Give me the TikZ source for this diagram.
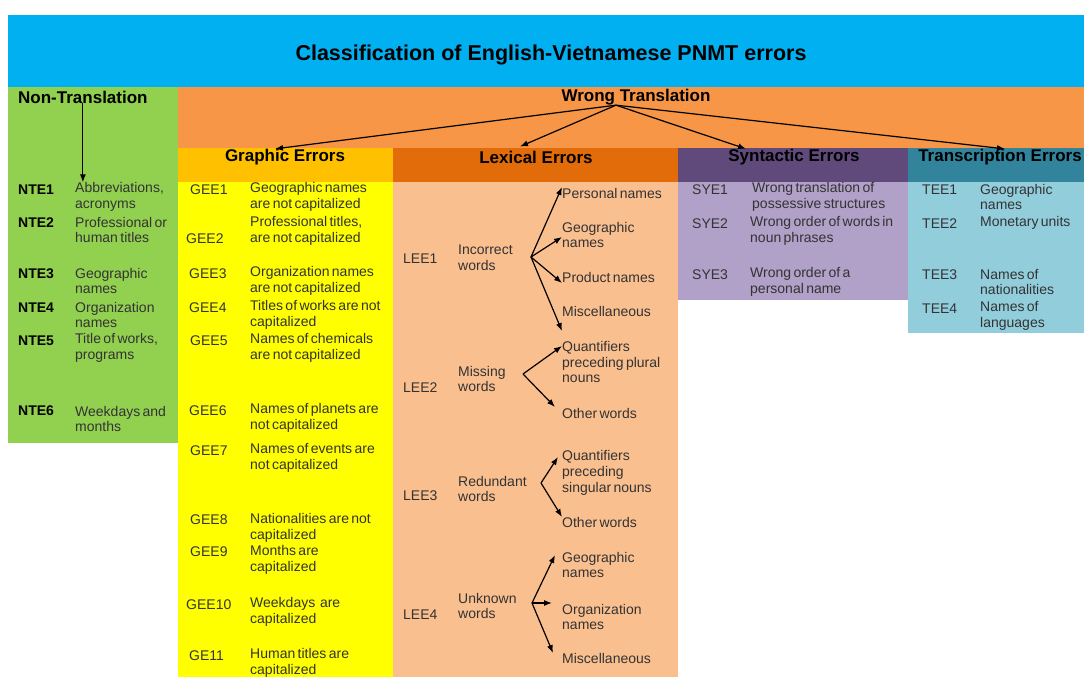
\documentclass[tikz,border=0pt]{standalone}
\usepackage{fontspec}
\setmainfont{Liberation Sans}
\usetikzlibrary{arrows.meta}
\definecolor{titleBlue}{HTML}{00B0F0}
\definecolor{ntGreen}{HTML}{92D050}
\definecolor{wtOrange}{HTML}{F79646}
\definecolor{geHeadCol}{HTML}{FFC000}
\definecolor{geBodyCol}{HTML}{FFFF00}
\definecolor{leHeadCol}{HTML}{E26B0A}
\definecolor{leBodyCol}{HTML}{FABF8F}
\definecolor{syHeadCol}{HTML}{604A7B}
\definecolor{syBodyCol}{HTML}{B1A0C7}
\definecolor{teHeadCol}{HTML}{31849B}
\definecolor{teBodyCol}{HTML}{92CDDC}
\newcommand{\itemFont}{\fontsize{14}{15.8}\selectfont\spaceskip=0.17em plus 0.05em}
\tikzstyle{codeStyle}=[anchor = west, inner sep = 0pt, font = \itemFont, text = black!80]
\tikzstyle{ntCodeStyle}=[anchor = west, inner sep = 0pt, font = \itemFont\bfseries, text = black]
\tikzstyle{itemStyle}=[anchor = west, align = left, inner sep = 0pt, font = \itemFont, text = black!80]
\tikzstyle{headStyle}=[inner sep = 0pt, font = \fontsize{17}{18}\selectfont\bfseries, text = black]
\tikzstyle{linkStyle}=[-{Latex[length = 8pt, width = 6pt]}, line width = 1.2pt]

\begin{document}
\begin{tikzpicture}[x = 1pt, y = -1pt]
\useasboundingbox (0,0) rectangle (1084,677);
\fill[white] (0,0) rectangle (1084,677);
% colour blocks
\fill[titleBlue] (8,15) rectangle (1084,87);
\fill[ntGreen] (8,87) rectangle (178,443);
\fill[wtOrange] (178,87) rectangle (1084,148);
\fill[geHeadCol] (178,148) rectangle (393,182);
\fill[geBodyCol] (178,182) rectangle (393,677);
\fill[leHeadCol] (393,148) rectangle (678,182);
\fill[leBodyCol] (393,182) rectangle (678,677);
\fill[syHeadCol] (678,148) rectangle (908,182);
\fill[syBodyCol] (678,182) rectangle (908,300);
\fill[teHeadCol] (908,148) rectangle (1084,182);
\fill[teBodyCol] (908,182) rectangle (1084,333);
% headings
\node[headStyle, font = \fontsize{21.5}{22}\selectfont\bfseries] (title) at (551,55) {Classification of English-Vietnamese PNMT errors};
\node[headStyle, anchor = west] (ntHead) at (18,97) {Non-Translation};
\node[headStyle] (wtHead) at (636,97) {Wrong Translation};
\node[headStyle] (geHead) at (285,157) {Graphic Errors};
\node[headStyle] (leHead) at (536,157) {Lexical Errors};
\node[headStyle] (syHead) at (794,157) {Syntactic Errors};
\node[headStyle] (teHead) at (1000,157) {Transcription Errors};
\draw[linkStyle] ([xshift = -20pt]wtHead.south) -- ([xshift = -10pt]geHead.north);
\draw[linkStyle] ([xshift = -20pt]wtHead.south) -- ([xshift = -16pt, yshift = 4pt]leHead.north);
\draw[linkStyle] ([xshift = -20pt]wtHead.south) -- ([xshift = -48pt]syHead.north);
\draw[linkStyle] ([xshift = -20pt]wtHead.south) -- ([xshift = 5pt]teHead.north);
% non-translation
\node[ntCodeStyle] (nte1) at (18,190) {NTE1};
\node[itemStyle] (nte1t) at (75,197) {Abbreviations,\\acronyms};
\node[ntCodeStyle] (nte2) at (18,223) {NTE2};
\node[itemStyle] (nte2t) at (75,230) {Professional or\\human titles};
\node[ntCodeStyle] (nte3) at (18,274) {NTE3};
\node[itemStyle] (nte3t) at (75,281) {Geographic\\names};
\node[ntCodeStyle] (nte4) at (18,308) {NTE4};
\node[itemStyle] (nte4t) at (75,315) {Organization\\names};
\node[ntCodeStyle] (nte5) at (18,341) {NTE5};
\node[itemStyle] (nte5t) at (75,348) {Title of works,\\programs};
\node[ntCodeStyle] (nte6) at (18,411) {NTE6};
\node[itemStyle] (nte6t) at (75,419) {Weekdays and\\months};
\draw[linkStyle] (ntHead.south) -- (ntHead.south |- nte1t.north);
% graphic errors
\node[codeStyle] (gee1) at (190,190) {GEE1};
\node[itemStyle] (gee1t) at (250,197) {Geographic names\\are not capitalized};
\node[codeStyle] (gee2) at (186,239) {GEE2};
\node[itemStyle] (gee2t) at (250,231) {Professional titles,\\are not capitalized};
\node[codeStyle] (gee3) at (189,274) {GEE3};
\node[itemStyle] (gee3t) at (250,281) {Organization names\\are not capitalized};
\node[codeStyle] (gee4) at (189,308) {GEE4};
\node[itemStyle] (gee4t) at (250,315) {Titles of works are not\\capitalized};
\node[codeStyle] (gee5) at (190,341) {GEE5};
\node[itemStyle] (gee5t) at (250,348) {Names of chemicals\\are not capitalized};
\node[codeStyle] (gee6) at (189,411) {GEE6};
\node[itemStyle] (gee6t) at (250,418) {Names of planets are\\not capitalized};
\node[codeStyle] (gee7) at (190,451) {GEE7};
\node[itemStyle] (gee7t) at (250,458) {Names of events are\\not capitalized};
\node[codeStyle] (gee8) at (190,520) {GEE8};
\node[itemStyle] (gee8t) at (250,528) {Nationalities are not\\capitalized};
\node[codeStyle] (gee9) at (190,552) {GEE9};
\node[itemStyle] (gee9t) at (250,560) {Months are\\capitalized};
\node[codeStyle] (gee10) at (186,605) {GEE10};
\node[itemStyle] (gee10t) at (250,612) {Weekdays\ \ are\\capitalized};
\node[codeStyle] (ge11) at (189,656) {GE11};
\node[itemStyle] (ge11t) at (250,663) {Human titles are\\capitalized};
% lexical errors
\node[codeStyle] (lee1) at (403,259) {LEE1};
\node[itemStyle] (lee1l) at (458,258) {Incorrect\\words};
\coordinate (lee1fork) at (531,257);
\node[itemStyle] (lee1x1) at (562,193) {Personal names};
\node[itemStyle] (lee1x2) at (562,235) {Geographic\\names};
\node[itemStyle] (lee1x3) at (562,277) {Product names};
\node[itemStyle] (lee1x4) at (562,311) {Miscellaneous};
\draw[linkStyle] (lee1fork) -- ([yshift = 6pt]lee1x1.west);
\draw[linkStyle] (lee1fork) -- ([yshift = -2pt]lee1x2.west);
\draw[linkStyle] (lee1fork) -- ([yshift = -6pt]lee1x3.west);
\draw[linkStyle] (lee1fork) -- ([yshift = -20pt]lee1x4.west);
\node[codeStyle] (lee2) at (403,388) {LEE2};
\node[itemStyle] (lee2l) at (458,379) {Missing\\words};
\coordinate (lee2fork) at (523,374);
\node[itemStyle] (lee2x1) at (562,362) {Quantifiers\\preceding plural\\nouns};
\node[itemStyle] (lee2x2) at (562,413) {Other words};
\draw[linkStyle] (lee2fork) -- ([yshift = 16pt]lee2x1.west);
\draw[linkStyle] (lee2fork) -- ([xshift = -7pt, yshift = 6pt]lee2x2.west);
\node[codeStyle] (lee3) at (403,496) {LEE3};
\node[itemStyle] (lee3l) at (458,489) {Redundant\\words};
\coordinate (lee3fork) at (541,483);
\node[itemStyle] (lee3x1) at (562,473) {Quantifiers\\preceding\\singular nouns};
\node[itemStyle] (lee3x2) at (562,522) {Other words};
\draw[linkStyle] (lee3fork) -- ([xshift = -4pt, yshift = 16pt]lee3x1.west);
\draw[linkStyle] (lee3fork) -- ([yshift = 5pt]lee3x2.west);
\node[codeStyle] (lee4) at (403,615) {LEE4};
\node[itemStyle] (lee4l) at (458,606) {Unknown\\words};
\coordinate (lee4fork) at (532,603);
\node[itemStyle] (lee4x1) at (562,565) {Geographic\\names};
\node[itemStyle] (lee4x2) at (562,617) {Organization\\names};
\node[itemStyle] (lee4x3) at (562,658) {Miscellaneous};
\draw[linkStyle] (lee4fork) -- ([xshift = -7pt, yshift = 10pt]lee4x1.west);
\draw[linkStyle] (lee4fork) -- ([xshift = -10pt, yshift = 14pt]lee4x2.west);
\draw[linkStyle] (lee4fork) -- ([xshift = -9pt, yshift = 5pt]lee4x3.west);
% syntactic errors
\node[codeStyle] (sye1) at (692,190) {SYE1};
\node[itemStyle] (sye1t) at (752,197) {Wrong translation of\\possessive structures};
\node[codeStyle] (sye2) at (692,224) {SYE2};
\node[itemStyle] (sye2t) at (750,231) {Wrong order of words in\\noun phrases};
\node[codeStyle] (sye3) at (692,275) {SYE3};
\node[itemStyle] (sye3t) at (750,282) {Wrong order of a\\personal name};
% transcription errors
\node[codeStyle] (tee1) at (922,190) {TEE1};
\node[itemStyle] (tee1t) at (980,197) {Geographic\\names};
\node[codeStyle] (tee2) at (922,224) {TEE2};
\node[itemStyle] (tee2t) at (980,223) {Monetary units};
\node[codeStyle] (tee3) at (922,275) {TEE3};
\node[itemStyle] (tee3t) at (980,282) {Names of\\nationalities};
\node[codeStyle] (tee4) at (922,309) {TEE4};
\node[itemStyle] (tee4t) at (980,316) {Names of\\languages};
\end{tikzpicture}
\end{document}
